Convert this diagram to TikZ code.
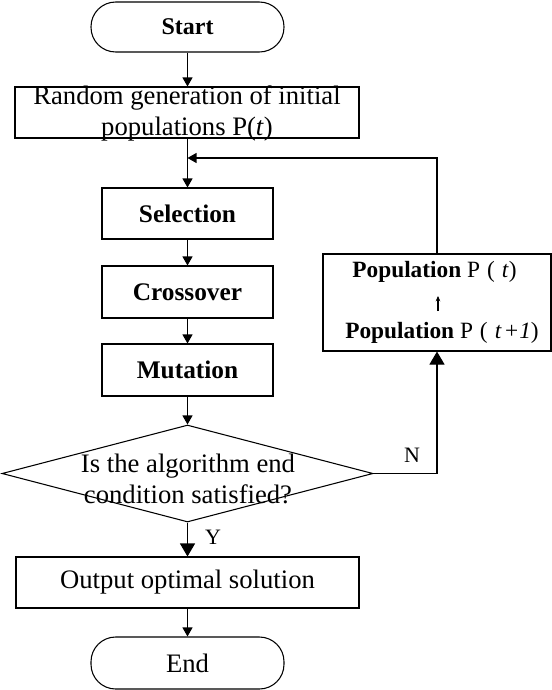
\documentclass[tikz,border=0pt]{standalone}
\usepackage{fontspec}
\setmainfont{Liberation Serif}
\usetikzlibrary{arrows.meta,shapes.geometric}
\begin{document}
\begin{tikzpicture}[x=0.75pt,y=-0.75pt,
  every node/.style={font=\fontsize{20}{23.25}\selectfont},
  box/.style={draw, line width=0.8pt, inner sep=0pt, align=center},
  term/.style={box, rounded corners=18.5pt},
  txt/.style={align=center, inner sep=0pt},
  boldbox/.style={box, font=\fontsize{19}{22}\selectfont\bfseries},
  popfont/.style={inner sep=0pt, font=\fontsize{17.5}{20}\selectfont},
  conn/.style={line width=0.8pt, -{Triangle[length=6.75pt,width=7.5pt]}},
  bigconn/.style={line width=0.8pt, -{Triangle[length=9.75pt,width=11.25pt]}},
  small/.style={line width=0.8pt, -{Stealth[length=4pt,width=3.5pt]}},
  lbl/.style={font=\fontsize{16.5}{19}\selectfont}]
\useasboundingbox (0,0) rectangle (552,690);

% nodes
\node[term, font=\fontsize{18}{21}\selectfont\bfseries, minimum width=144.75pt, minimum height=37.5pt] (start) at (187.5,27) {Start};
\node[box, minimum width=258pt, minimum height=38.25pt] (rand) at (187,112.5) {};
\node[txt] (randtext) at (187,113) {Random generation of initial\\populations P(\textit{t})};
\node[boldbox, minimum width=128.25pt, minimum height=38.25pt] (sel) at (187.5,213.5) {Selection};
\node[boldbox, minimum width=128.25pt, minimum height=39pt] (cross) at (187.5,292) {Crossover};
\node[boldbox, minimum width=128.25pt, minimum height=39pt] (mut) at (187.5,370) {Mutation};
\node[diamond, draw, line width=0.8pt, inner sep=0pt, minimum width=278.25pt, minimum height=72.75pt] (dec) at (187.5,473.5) {};
\node[txt] (dectext) at (188,478.5) {Is the algorithm end\\condition satisfied?};
\node[box, minimum width=257.25pt, minimum height=38.25pt] (out) at (187.5,582.5) {Output optimal solution};
\node[term, minimum width=144.75pt, minimum height=39pt] (end) at (187.5,663) {End};

\node[box, minimum width=171pt, minimum height=72.75pt] (pop) at (437,302.5) {};
\node[popfont] (pop1) at (434.5,272) {\textbf{Population} P\hspace{0.3em}(\hspace{0.3em}\textit{t})};
\node[popfont] (pop2) at (442,333) {\textbf{Population} P\hspace{0.3em}(\hspace{0.3em}\textit{t\hspace{0.1em}+1})};
\coordinate (pa) at (438,311);
\coordinate (pb) at (438,296);

\coordinate (join) at (187.5,158);

\node[lbl] (ylab) at (213,537) {Y};
\node[lbl] (nlab) at (412,455) {N};

% connectors
\draw[conn] (start.south) -- (start.south |- rand.north);
\draw[conn] (sel.north |- rand.south) -- (sel.north);
\draw[conn] (pop.north) |- (join);
\draw[conn] (sel) -- (cross);
\draw[conn] (cross) -- (mut);
\draw[conn] (mut) -- (dec.north);
\draw[bigconn] (dec.south) -- (out.north);
\draw[conn] (out) -- (end);
\draw[bigconn] (dec.east) -| (pop.south);
\draw[small] (pa) -- (pb);
\end{tikzpicture}
\end{document}
